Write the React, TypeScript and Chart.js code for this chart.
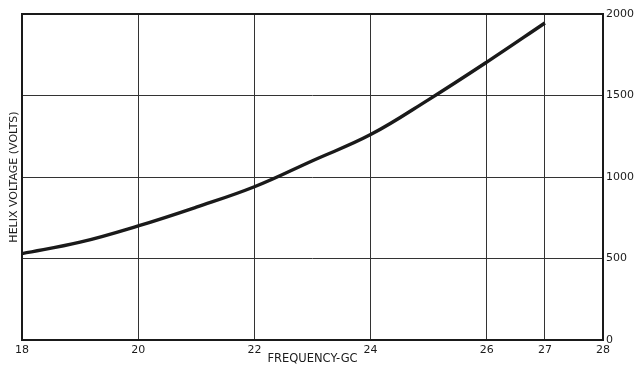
import React, { useEffect, useRef } from "react";
import { Chart, registerables } from "chart.js";

Chart.register(...registerables);

const frequency = [18, 19, 20, 21, 22, 23, 24, 25, 26, 27];
const helixVoltage = [530, 600, 700, 815, 940, 1100, 1260, 1475, 1705, 1945];
const xTickValues = [18, 20, 22, 24, 26, 27, 28];
const yTickValues = [0, 500, 1000, 1500, 2000];

const FONT = "'DejaVu Sans', 'Liberation Sans', sans-serif";
const INK = "#1a1a1a";

const framePlugin = {
  id: "frame",
  afterDatasetsDraw(chart: any) {
    const { ctx, chartArea } = chart;
    ctx.save();
    ctx.strokeStyle = INK;
    ctx.lineWidth = 2;
    ctx.strokeRect(chartArea.left, chartArea.top, chartArea.right - chartArea.left, chartArea.bottom - chartArea.top);
    ctx.restore();
  },
};

export default function App() {
  const ref = useRef<HTMLCanvasElement | null>(null);
  useEffect(() => {
    if (!ref.current) return;
    const chart = new Chart(ref.current, {
      type: "line",
      data: {
        datasets: [
          {
            data: frequency.map((f, i) => ({ x: f, y: helixVoltage[i] })),
            borderColor: INK,
            borderWidth: 3.4,
            pointRadius: 0,
            tension: 0.4,
            fill: false,
          },
        ],
      },
      options: {
        responsive: false,
        animation: false,
        events: [],
        layout: { padding: { top: 14, left: 0, right: 0, bottom: 0 } },
        plugins: { legend: { display: false }, tooltip: { enabled: false } },
        scales: {
          x: {
            type: "linear",
            min: 18,
            max: 28,
            afterBuildTicks: (s: any) => {
              s.ticks = xTickValues.map((v) => ({ value: v }));
            },
            afterFit: (s: any) => {
              s.height = 26;
            },
            grid: { color: "#333", lineWidth: 1, drawTicks: false },
            border: { display: false },
            ticks: {
              padding: 4,
              maxRotation: 0,
              autoSkip: false,
              color: INK,
              font: { family: FONT, size: 11 },
              callback: (v: any) => String(v),
            },
            title: {
              display: true,
              text: "FREQUENCY-GC",
              color: INK,
              padding: { top: 0, bottom: 0 },
              font: { family: FONT, size: 11.5 },
            },
          },
          y: {
            type: "linear",
            position: "right",
            min: 0,
            max: 2000,
            afterBuildTicks: (s: any) => {
              s.ticks = yTickValues.map((v) => ({ value: v }));
            },
            afterFit: (s: any) => {
              s.width = 35;
            },
            grid: { color: "#333", lineWidth: 1, drawTicks: false },
            border: { display: false },
            ticks: {
              padding: 3,
              color: INK,
              font: { family: FONT, size: 11 },
              callback: (v: any) => String(v),
            },
          },
          yTitle: {
            type: "linear",
            position: "left",
            min: 0,
            max: 2000,
            afterFit: (s: any) => {
              s.width = 22;
            },
            grid: { display: false, drawTicks: false },
            border: { display: false },
            ticks: { display: false },
            title: {
              display: true,
              text: "HELIX VOLTAGE (VOLTS)",
              color: INK,
              padding: { top: 8, bottom: 0 },
              font: { family: FONT, size: 11 },
            },
          },
        },
      },
      plugins: [framePlugin],
    } as any);
    return () => chart.destroy();
  }, []);
  return (
    <div style={{ position: "fixed", left: 0, top: 0, width: 638, height: 366, background: "#fff" }}>
      <canvas ref={ref} width={638} height={366} style={{ display: "block" }} />
    </div>
  );
}
